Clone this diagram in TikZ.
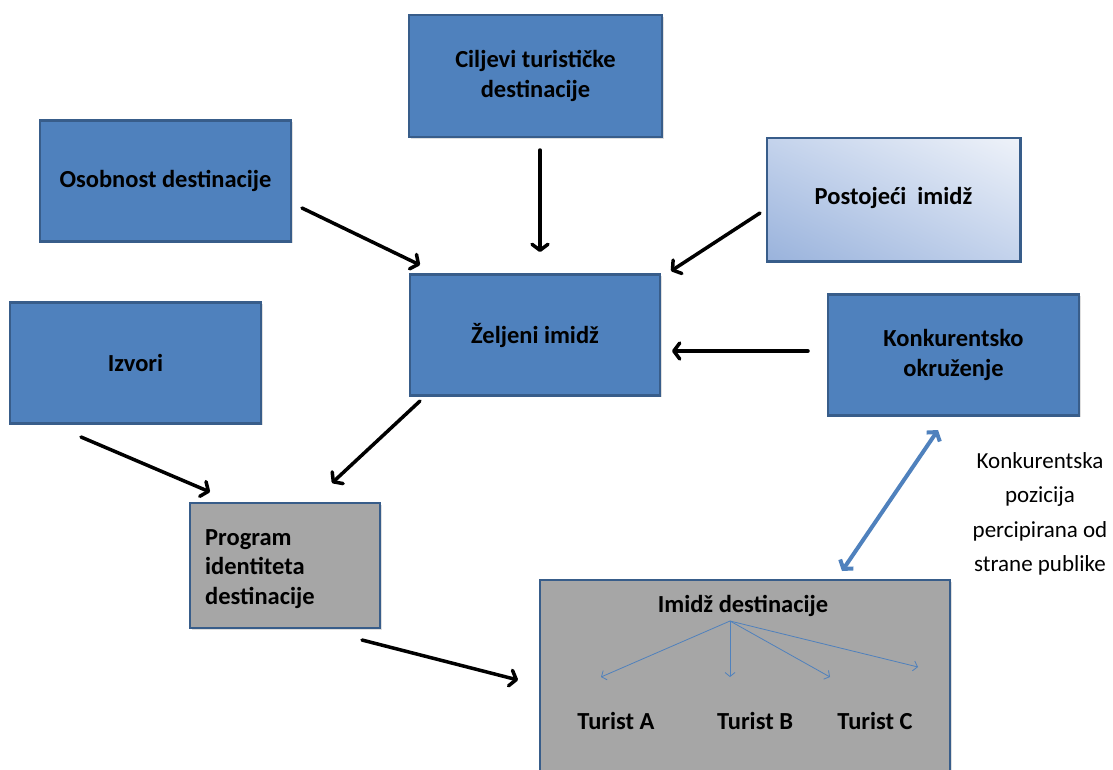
\documentclass[tikz,border=0pt]{standalone}
\usepackage{fontspec}
\setmainfont{Carlito}
\usetikzlibrary{arrows.meta,shadows,shadings}
\definecolor{boxblue}{HTML}{4F81BD}
\definecolor{boxedge}{HTML}{385D8A}
\definecolor{boxgray}{HTML}{A6A6A6}
\definecolor{palehi}{HTML}{EEF2F9}
\definecolor{palemid}{HTML}{C4D3EC}
\definecolor{palelo}{HTML}{9AB3DC}
\tikzset{
  card/.style={draw=boxedge, line width=2.5pt, fill=boxblue, inner sep=0pt,
    font=\bfseries\fontsize{24.5}{30}\selectfont, align=center,
    drop shadow={shadow xshift=1.5pt, shadow yshift=-1.5pt, opacity=0.25}},
  graycard/.style={card, fill=boxgray},
  flow/.style={line width=3.5pt, black, line cap=round,
    -{Straight Barb[length=6pt,width=16pt,line cap=round,line join=round]}},
  link/.style={line width=4pt, boxblue,
    {Straight Barb[length=6pt,width=16pt]}-{Straight Barb[length=6pt,width=16pt]}},
  fan/.style={line width=0.8pt, boxblue, -{Straight Barb[length=4pt,width=10pt]}},
  label/.style={font=\bfseries\fontsize{24.5}{30}\selectfont},
}
\begin{document}
\begin{tikzpicture}[x=1pt,y=-1pt]
\useasboundingbox (0,0) rectangle (1113,769);

% boxes
\node[card, minimum width=253pt, minimum height=122pt] (cilj) at (535.5,76) {Ciljevi turističke\\destinacije};
\node[card, minimum width=251pt, minimum height=121pt] (osob) at (165.5,181) {Osobnost destinacije};
\node[card, minimum width=251pt, minimum height=121pt, fill=none, drop shadow={opacity=0}] (post) at (893.5,199.5) {};
\shade[upper right=palehi, lower left=palelo, upper left=palemid, lower right=palemid]
  ([xshift=1.25pt,yshift=-1.25pt]post.north west) rectangle ([xshift=-1.25pt,yshift=1.25pt]post.south east);
\draw[boxedge, line width=2.5pt] (post.north west) rectangle (post.south east);
\node[label] (posttxt) at ([yshift=2pt]post.center) {Postojeći\ \ imidž};
\node[card, minimum width=250pt, minimum height=121pt] (zelj) at (535,335) {Željeni imidž};
\node[card, minimum width=251pt, minimum height=121pt] (konk) at (953.5,355) {Konkurentsko\\okruženje};
\node[card, minimum width=251pt, minimum height=121pt] (izv) at (135.5,363) {Izvori};
\node[graycard, minimum width=190pt, minimum height=125pt] (prog) at (285,565.5) {};
\node[anchor=west, align=left, inner sep=0pt, font=\bfseries\fontsize{24.5}{29.5}\selectfont]
  (progtxt) at (205,569) {Program\\identiteta\\destinacije};
\node[graycard, minimum width=410pt, minimum height=200pt] (imidz) at (745,680) {};

% texts inside the image box
\node[label] (imtxt) at (743,606) {Imidž destinacije};
\node[label] (ta) at (616,721) {Turist A};
\node[label] (tb) at (755,721) {Turist B};
\node[label] (tc) at (875,721) {Turist C};
\coordinate (fanfrom) at (730,621);
\coordinate (fa) at (601,677);
\coordinate (fb) at (730,677);
\coordinate (fc) at (830,677);
\coordinate (fd) at (918,667);
\draw[fan] (fanfrom) -- (fa);
\draw[fan] (fanfrom) -- (fb);
\draw[fan] (fanfrom) -- (fc);
\draw[fan] (fanfrom) -- (fd);

% side note
\node[font=\fontsize{23}{34.5}\selectfont, align=center] (note) at (1040,514) {Konkurentska\\pozicija\\percipirana od\\strane publike};

% black flow arrows
\coordinate (c1) at (540,150); \coordinate (c2) at (540,252);
\coordinate (o1) at (302,208); \coordinate (o2) at (420,265);
\coordinate (p1) at (760,213); \coordinate (p2) at (671,271);
\coordinate (k1) at (808,351); \coordinate (k2) at (672,351);
\coordinate (z1) at (420,401); \coordinate (z2) at (332,483);
\coordinate (i1) at (81,437);  \coordinate (i2) at (210,492);
\coordinate (g1) at (362,640); \coordinate (g2) at (518,680);
\draw[flow] (c1) -- (c2);
\draw[flow] (o1) -- (o2);
\draw[flow] (p1) -- (p2);
\draw[flow] (k1) -- (k2);
\draw[flow] (z1) -- (z2);
\draw[flow] (i1) -- (i2);
\draw[flow] (g1) -- (g2);

% competition link
\coordinate (l1) at (938,430); \coordinate (l2) at (842,571);
\draw[link] (l1) -- (l2);
\end{tikzpicture}
\end{document}
